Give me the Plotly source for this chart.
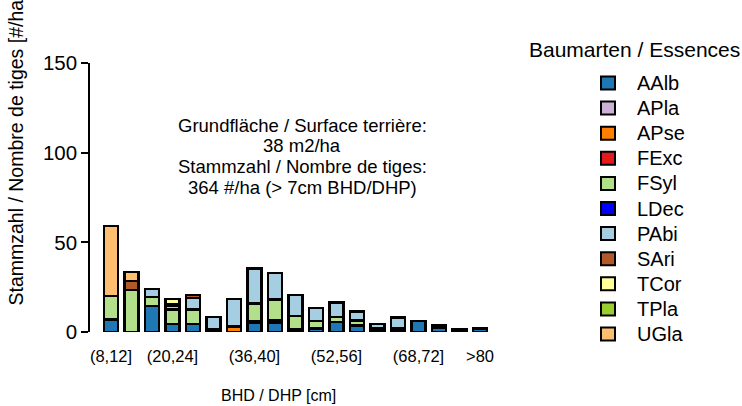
import plotly.graph_objects as go

categories = ["(8,12]", "(12,16]", "(16,20]", "(20,24]", "(24,28]", "(28,32]", "(32,36]",
              "(36,40]", "(40,44]", "(44,48]", "(48,52]", "(52,56]", "(56,60]", "(60,64]",
              "(64,68]", "(68,72]", "(72,76]", "(76,80]", ">80"]
shown_ticks = ["(8,12]", "(20,24]", "(36,40]", "(52,56]", "(68,72]", ">80"]

species = ["AAlb", "APla", "APse", "FExc", "FSyl", "LDec", "PAbi", "SAri", "TCor", "TPla", "UGla"]
colors = ["#1F78B4", "#CAB2D6", "#FF7F00", "#E31A1C", "#B2DF8A", "#0000FF",
          "#A6CEE3", "#B15928", "#FFFF99", "#9ACD32", "#FDBF6F"]

AAlb = [7, 0, 14.5, 4.5, 4.5, 0, 0, 5, 5, 1.5, 2, 5.5, 3.5, 1, 1, 6, 2.5, 1.5, 2]
APla = [0] * 19
APse = [0, 0, 0, 0, 0, 1.5, 3, 0, 0, 0, 0, 0, 0, 0, 0, 0, 0, 0, 0]
FExc = [0, 0, 0, 0, 0, 0, 0, 1, 1.5, 0, 0, 0, 0, 0, 0, 0, 0, 0, 0]
FSyl = [13, 23.5, 5, 8, 8, 0, 0, 10, 11.5, 7.5, 4, 3, 3, 1, 1, 0, 0, 0, 0]
LDec = [0, 0, 0, 0, 0, 0, 0, 0, 0, 0, 0, 0, 0, 0, 0, 0, 1.5, 0, 0]
PAbi = [0, 0, 4.5, 2, 6.5, 7, 15.5, 19.5, 15, 11.5, 7.5, 8, 5, 2.5, 6, 0, 0, 0, 0]
SAri = [0, 5, 0, 1, 1.5, 0, 0, 0, 0, 0, 0, 0, 0, 0, 0, 0, 0, 0, 0]
TCor = [0, 0, 0, 3, 0, 0, 0, 0, 0, 0, 0, 0, 0, 0, 0, 0, 0, 0, 0]
TPla = [0] * 19
UGla = [39, 5, 0, 0, 0, 0, 0, 0, 0, 0, 0, 0, 0, 0, 0, 0, 0, 0, 0]

values = [AAlb, APla, APse, FExc, FSyl, LDec, PAbi, SAri, TCor, TPla, UGla]

info_lines = ["Grundfläche / Surface terrière:", "38 m2/ha",
              "Stammzahl / Nombre de tiges:", "364 #/ha (> 7cm BHD/DHP)"]

FONT = "Liberation Sans, Arial, sans-serif"

fig = go.Figure()
xs = list(range(len(categories)))
for name, col, vals in zip(species, colors, values):
    fig.add_trace(go.Bar(
        x=xs, y=[v if v > 0 else None for v in vals], name=name,
        marker=dict(color=col, line=dict(color="black", width=2.5)),
        width=0.68, showlegend=False,
    ))

# geometry
L, R, T, B = 90, 500, 63, 332
W, H = 742, 406
pw, ph = R - L, B - T

def px(xp):
    return (xp - L) / pw

def py(yp):
    return (B - yp) / ph

step = 20.5
x0 = -(111 - L) / step
x1 = (R - 111) / step

for i, line in enumerate(info_lines):
    fig.add_annotation(x=px(302), y=py(125 + i * 20.7), xref="paper", yref="paper",
                       text=line, showarrow=False, xanchor="center", yanchor="middle",
                       font=dict(size=18.5, color="black", family=FONT))

fig.add_annotation(x=px(278), y=py(396), xref="paper", yref="paper",
                   text="BHD / DHP [cm]", showarrow=False, xanchor="center", yanchor="middle",
                   font=dict(size=16, color="black", family=FONT))
fig.add_annotation(x=px(15), y=py(308), xref="paper", yref="paper",
                   text="Stammzahl / Nombre de tiges [#/ha]", textangle=-90, showarrow=False,
                   xanchor="center", yanchor="bottom",
                   font=dict(size=19.5, color="black", family=FONT))

# legend (key boxes + labels), built from species / colors lists
fig.add_annotation(x=px(527), y=py(50), xref="paper", yref="paper",
                   text="Baumarten / Essences", showarrow=False, xanchor="left", yanchor="middle",
                   font=dict(size=21, color="black", family=FONT))
row0, row_step = 83, 25.1
for i, (name, col) in enumerate(zip(species, colors)):
    yc = row0 + i * row_step
    fig.add_shape(type="rect", xref="paper", yref="paper",
                  x0=px(601), x1=px(615), y0=py(yc - 6.5), y1=py(yc + 6.5),
                  fillcolor=col, line=dict(color="black", width=2))
    fig.add_annotation(x=px(635), y=py(yc), xref="paper", yref="paper", text=name,
                       showarrow=False, xanchor="left", yanchor="middle",
                       font=dict(size=20, color="black", family=FONT))

fig.update_layout(
    width=W, height=H, barmode="stack",
    margin=dict(l=L, r=W - R, t=T, b=H - B, pad=0, autoexpand=False),
    plot_bgcolor="white", paper_bgcolor="white",
    font=dict(family=FONT, color="black"),
    showlegend=False,
    xaxis=dict(range=[x0, x1], tickmode="array", tickvals=[categories.index(c) for c in shown_ticks],
               ticktext=shown_ticks, ticks="outside", ticklen=9, tickcolor="rgba(0,0,0,0)",
               showline=False, showgrid=False, zeroline=False,
               tickfont=dict(size=16.5, family=FONT, color="black")),
    yaxis=dict(range=[0, 150], tickvals=[0, 50, 100, 150], ticks="outside", ticklen=7,
               tickwidth=1.5, tickcolor="black", showline=True, linecolor="black", linewidth=1.5,
               showgrid=False, zeroline=False,
               tickfont=dict(size=20.5, family=FONT, color="black")),
)

fig.write_html("out.html", config={"displayModeBar": False},
               post_script="document.body.style.margin='0px';document.body.style.overflow='hidden';")
